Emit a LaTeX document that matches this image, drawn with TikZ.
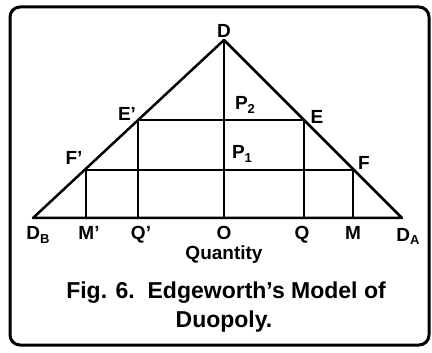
\documentclass[tikz,border=0pt]{standalone}
\usepackage{fontspec}
\setmainfont{Liberation Sans}
\newcommand{\lsub}[1]{\raisebox{-0.35ex}{\fontsize{13}{13}\selectfont #1}}
\begin{document}
\begin{tikzpicture}[x=1pt,y=-1pt,
  ln/.style={line width=2.5pt, line cap=round, line join=round},
  lbl/.style={font=\fontsize{19}{19}\selectfont\bfseries, inner sep=0pt},
  blbl/.style={lbl, anchor=base},
  captxt/.style={font=\fontsize{23}{26}\selectfont\bfseries, inner sep=0pt, align=center}]
\useasboundingbox (0,0) rectangle (432,353);
\draw[line width=3pt, rounded corners=10pt] (10,7) rectangle (429,345);
% points
\coordinate (D) at (224,40);
\coordinate (DB) at (33,218);
\coordinate (DA) at (402,218);
\coordinate (E1) at (138,120);
\coordinate (E) at (304,120);
\coordinate (F1) at (86,170);
\coordinate (F) at (353,170);
\coordinate (O) at (224,218);
\coordinate (M1) at (86,218);
\coordinate (Q1) at (138,218);
\coordinate (Q) at (304,218);
\coordinate (M) at (353,218);
% lines
\draw[ln] (DB) -- (D) -- (DA) -- cycle;
\draw[ln] (D) -- (O);
\draw[ln] (E1) -- (E);
\draw[ln] (F1) -- (F);
\draw[ln] (E1) -- (Q1);
\draw[ln] (E) -- (Q);
\draw[ln] (F1) -- (M1);
\draw[ln] (F) -- (M);
% labels
\node[lbl] (lD) at (224,31) {D};
\node[lbl] (lP2) at (245,105) {P\lsub{2}};
\node[lbl] (lP1) at (242,154) {P\lsub{1}};
\node[lbl] (lE1) at (127,114) {E’};
\node[lbl] (lE) at (317,117) {E};
\node[lbl] (lF1) at (74,158) {F’};
\node[lbl] (lF) at (364,163) {F};
\node[blbl] (lDB) at (38,240) {D\lsub{B}};
\node[blbl] (lM1) at (89,240) {M’};
\node[blbl] (lQ1) at (141,240) {Q’};
\node[blbl] (lO) at (224,240) {O};
\node[blbl] (lQ) at (302,240) {Q};
\node[blbl] (lM) at (353,240) {M};
\node[blbl] (lDA) at (408,241) {D\lsub{A}};
\node[blbl] (lq) at (224,260) {Quantity};
\node[captxt] (c1) at (226,293) {Fig. 6.\ \ Edgeworth’s Model of};
\node[captxt] (c2) at (224,322) {Duopoly.};
\end{tikzpicture}
\end{document}
